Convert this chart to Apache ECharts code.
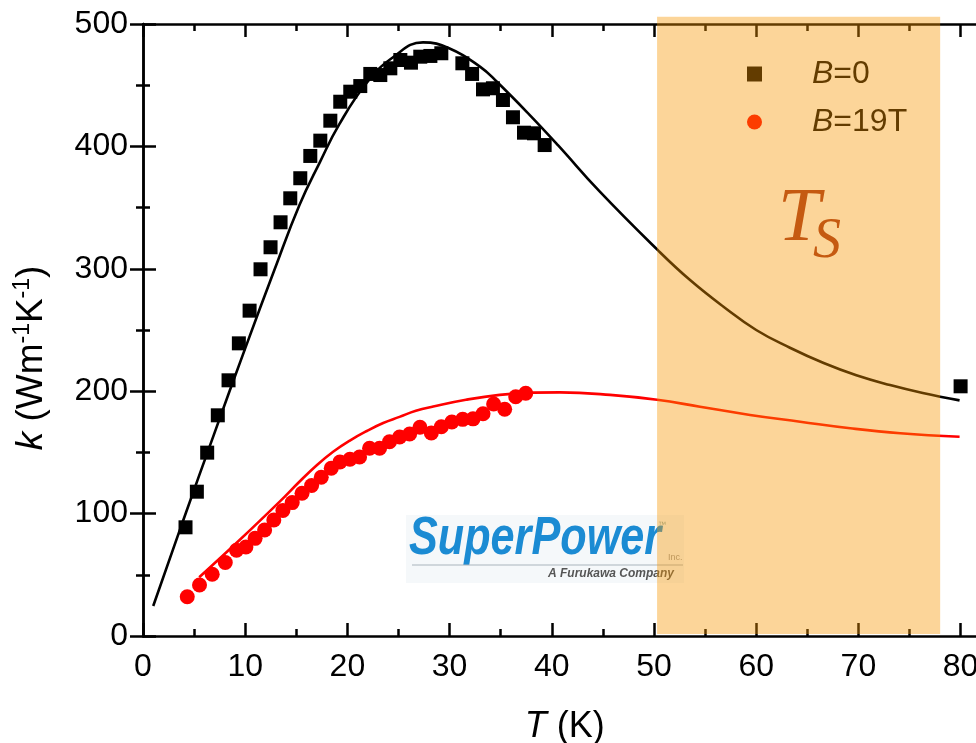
<!DOCTYPE html>
<html>
<head>
<meta charset="utf-8">
<script src="https://cdn.jsdelivr.net/npm/echarts@6/dist/echarts.min.js"></script>
<style>
  html, body { margin: 0; padding: 0; background: #ffffff; }
  #chart { width: 976px; height: 743px; }
</style>
</head>
<body>
<div id="chart"></div>
<script>
// Thermal conductivity k(T) of the coated-conductor tape at B = 0 and B = 19 T,
// measured points plus model fits, with the T_S window shaded.

// Measured, B = 0 (T in K, k in W m^-1 K^-1)
const tB0 = [4.16, 5.27, 6.28, 7.32, 8.37, 9.38, 10.43, 11.5, 12.48, 13.46, 14.41, 15.39,
  16.37, 17.35, 18.33, 19.3, 20.28, 21.26, 22.24, 23.22, 24.2, 25.18, 26.22, 27.13, 28.12,
  29.19, 31.25, 32.2, 33.27, 34.24, 35.22, 36.2, 37.28, 38.26, 39.3, 80];
const kB0 = [88.8, 117.9, 149.8, 180.3, 208.9, 239.1, 265.8, 299.6, 317.6, 338.0, 357.6, 374.0,
  392.2, 404.7, 421.0, 436.5, 444.7, 449.3, 459.2, 458.3, 463.8, 470.6, 468.4, 473.3, 473.9,
  476.1, 467.9, 459.2, 446.6, 447.5, 437.9, 423.8, 411.2, 410.7, 401.1, 204];

// Measured, B = 19 T
const tB19 = [4.33, 5.53, 6.77, 8.05, 9.15, 10.07, 10.97, 11.9, 12.8, 13.69, 14.6, 15.56,
  16.5, 17.44, 18.42, 19.27, 20.25, 21.19, 22.17, 23.15, 24.12, 25.11, 26.09, 27.1, 28.21,
  29.19, 30.22, 31.28, 32.29, 33.27, 34.31, 35.39, 36.47, 37.45];
const kB19 = [32.1, 41.7, 50.4, 60.0, 70.0, 72.7, 79.8, 86.6, 94.8, 102.5, 109.0, 116.6,
  123.0, 129.7, 137.0, 142.2, 144.4, 146.2, 153.4, 153.4, 158.7, 162.6, 165.0, 170.5, 165.8,
  171.0, 174.8, 177.0, 177.4, 181.6, 189.5, 185.2, 195.5, 198.3];

// Model fit, B = 0
const fitTB0 = [1.0, 4.0, 7.0, 10.0, 12.9, 15.3, 17.3, 19.2, 21.9, 24.5, 27.4, 30.0, 33.0,
  34.6, 37.8, 40.6, 44.7, 50.4, 53.5, 56.8, 60.0, 63.3, 66.6, 69.8, 73.1, 76.3, 79.9];
const fitKB0 = [24.5, 96, 166, 235, 300, 352, 387, 418, 452, 473, 485, 480, 465,
  453, 426, 401, 363, 315, 291, 269, 250, 235.5, 223, 213, 205, 198.5, 192.5];

// Model fit, B = 19 T
const fitTB19 = [5.5, 9.4, 13.4, 15.3, 17.0, 18.6, 20.2, 21.9, 23.5, 25.1, 26.7, 28.4, 31.6,
  34.9, 38.2, 40.8, 45.7, 50.3, 54.5, 59.4, 64.3, 69.2, 74.1, 79.9];
const fitKB19 = [48, 78, 110, 126, 139.5, 150.5, 159.5, 167.5, 174, 179, 184, 187.5, 193,
  197, 198.8, 199, 197, 193, 187.3, 180.6, 175.1, 169.7, 165.6, 162.8];

// Shaded T_S window (T range, and k extent of the band)
const tsBandT = [50.3, 78.0];
const tsBandK = [1.6, 506];

// Axis ranges and tick steps
const xRange = [0, 80], xStep = 10;
const yRange = [0, 500], yStep = 100;

const seriesNames = ['B=0', 'B=19T'];

const FONT = "'Liberation Sans', Arial, sans-serif";
const pair = (xs, ys) => xs.map((x, i) => [x, ys[i]]);

const chart = echarts.init(document.getElementById('chart'), null, { renderer: 'canvas' });

const frameLine = { show: true, lineStyle: { color: '#000', width: 2.5 } };
const tickStyle = { show: true, inside: true, length: 13, lineStyle: { color: '#000', width: 2.5 } };
const minorStyle = { show: true, splitNumber: 2, length: 7, lineStyle: { color: '#000', width: 2.5 } };

const option = {
  backgroundColor: '#ffffff',
  animation: false,
  grid: [
    // data area (x runs 0..80)
    { left: 143, top: 24, width: 817.6, height: 612, containLabel: false, outerBoundsMode: 'none' },
    // outer frame, which runs on past T = 80
    { left: 143, top: 24, width: 838, height: 612, containLabel: false, outerBoundsMode: 'none' }
  ],
  legend: {
    data: seriesNames,
    orient: 'vertical',
    left: 742,
    top: 52,
    itemWidth: 15,
    itemHeight: 15,
    itemGap: 14,
    z: 3,
    selectedMode: false,
    formatter: (name) => '{i|' + name.charAt(0) + '}' + name.slice(1),
    textStyle: {
      fontFamily: FONT, fontSize: 32, color: '#000', lineHeight: 34,
      padding: [0, 0, 0, 45],
      rich: {
        i: { fontFamily: FONT, fontSize: 32, fontStyle: 'italic', color: '#000', lineHeight: 34 }
      }
    }
  },
  xAxis: [
    {
      gridIndex: 0, type: 'value', position: 'bottom',
      min: xRange[0], max: xRange[1], interval: xStep,
      axisLine: { show: false },
      axisTick: tickStyle, minorTick: minorStyle,
      splitLine: { show: false },
      axisLabel: { fontFamily: FONT, fontSize: 32, color: '#000', margin: 15 },
      name: '{i|T} (K)',
      nameLocation: 'middle',
      nameGap: 73,
      nameTextStyle: {
        fontFamily: FONT, fontSize: 36, color: '#000', padding: [0, 0, 0, 26],
        rich: { i: { fontFamily: FONT, fontSize: 36, fontStyle: 'italic', color: '#000' } }
      }
    },
    {
      gridIndex: 0, type: 'value', position: 'top',
      min: xRange[0], max: xRange[1], interval: xStep,
      axisLine: { show: false },
      axisTick: tickStyle, minorTick: minorStyle,
      splitLine: { show: false },
      axisLabel: { show: false }
    },
    {
      gridIndex: 1, type: 'value', position: 'bottom', min: 0, max: 1,
      axisLine: frameLine, axisTick: { show: false }, axisLabel: { show: false },
      splitLine: { show: false }
    },
    {
      gridIndex: 1, type: 'value', position: 'top', min: 0, max: 1,
      axisLine: frameLine, axisTick: { show: false }, axisLabel: { show: false },
      splitLine: { show: false }
    }
  ],
  yAxis: [
    {
      gridIndex: 0, type: 'value', position: 'left',
      min: yRange[0], max: yRange[1], interval: yStep,
      axisLine: frameLine,
      axisTick: tickStyle, minorTick: minorStyle,
      splitLine: { show: false },
      axisLabel: { fontFamily: FONT, fontSize: 32, color: '#000', margin: 15 },
      name: '{i|k} (Wm{s|-1}K{s|-1})',
      nameLocation: 'middle',
      nameGap: 90,
      nameTextStyle: {
        fontFamily: FONT, fontSize: 37, color: '#000', lineHeight: 42, padding: [0, 56, 0, 0],
        rich: {
          i: { fontFamily: FONT, fontSize: 37, fontStyle: 'italic', color: '#000', lineHeight: 42 },
          s: { fontFamily: FONT, fontSize: 23, color: '#000', verticalAlign: 'top', lineHeight: 24 }
        }
      }
    },
    {
      gridIndex: 1, type: 'value', position: 'right',
      min: yRange[0], max: yRange[1], interval: yStep,
      axisLine: frameLine,
      axisTick: tickStyle, minorTick: minorStyle,
      splitLine: { show: false },
      axisLabel: { show: false }
    }
  ],
  series: [
    {
      name: 'fit B=0', type: 'line', xAxisIndex: 0, yAxisIndex: 0,
      data: pair(fitTB0, fitKB0), smooth: 0.45, showSymbol: false, symbol: 'none',
      lineStyle: { color: '#000', width: 2.6 }, z: 2, silent: true
    },
    {
      name: 'fit B=19T', type: 'line', xAxisIndex: 0, yAxisIndex: 0,
      data: pair(fitTB19, fitKB19), smooth: 0.45, showSymbol: false, symbol: 'none',
      lineStyle: { color: '#ff0000', width: 2.6 }, z: 2, silent: true
    },
    {
      name: seriesNames[0], type: 'scatter', xAxisIndex: 0, yAxisIndex: 0,
      data: pair(tB0, kB0), symbol: 'rect', symbolSize: 14,
      itemStyle: { color: '#000', opacity: 1 }, z: 3
    },
    {
      name: seriesNames[1], type: 'scatter', xAxisIndex: 0, yAxisIndex: 0,
      data: pair(tB19, kB19), symbol: 'circle', symbolSize: 15,
      itemStyle: { color: '#ff0000', opacity: 1 }, z: 3
    },
    {
      // translucent T_S window laid over curves, legend and frame
      name: 'Ts window', type: 'custom', xAxisIndex: 0, yAxisIndex: 0,
      data: [[tsBandT[0], tsBandT[1]]],
      clip: false, silent: true, z: 10,
      renderItem: (params, api) => {
        const p0 = api.coord([api.value(0), tsBandK[0]]);
        const p1 = api.coord([api.value(1), tsBandK[1]]);
        return {
          type: 'rect',
          shape: { x: p0[0], y: p1[1], width: p1[0] - p0[0], height: p0[1] - p1[1] },
          style: { fill: 'rgba(247,150,0,0.4)' }
        };
      }
    }
  ],
  graphic: [
    // T_S label
    {
      type: 'text', left: 778, top: 182, z: 20, silent: true,
      style: { text: 'T', font: "italic 76px 'Liberation Serif', 'Times New Roman', serif", fill: '#c55a11' }
    },
    {
      type: 'text', left: 813, top: 214, z: 20, silent: true,
      style: { text: 'S', font: "italic 56px 'Liberation Serif', 'Times New Roman', serif", fill: '#c55a11' }
    },
    // SuperPower logo
    {
      type: 'group', left: 406, top: 512, z: 1, silent: true,
      children: [
        { type: 'rect', shape: { x: 0, y: 0, width: 278, height: 68 }, style: { fill: '#f5f8fa' } },
        {
          type: 'text', x: 3, y: -3, scaleX: 0.8,
          style: { text: 'SuperPower', font: "italic bold 54px 'Liberation Sans', Arial, sans-serif", fill: '#1b8bd3' }
        },
        {
          type: 'text', x: 252, y: 6,
          style: { text: '™', font: "8px 'Liberation Sans', Arial, sans-serif", fill: '#8aa' }
        },
        {
          type: 'text', x: 262, y: 38,
          style: { text: 'Inc.', font: "9px 'Liberation Sans', Arial, sans-serif", fill: '#999' }
        },
        { type: 'line', shape: { x1: 6, y1: 50, x2: 277, y2: 50 }, style: { stroke: '#a9b3bb', lineWidth: 1.2 } },
        {
          type: 'text', x: 142, y: 53,
          style: { text: 'A Furukawa Company', font: "italic bold 12px 'Liberation Sans', Arial, sans-serif", fill: '#555' }
        }
      ]
    }
  ]
};

chart.setOption(option);
</script>
</body>
</html>
